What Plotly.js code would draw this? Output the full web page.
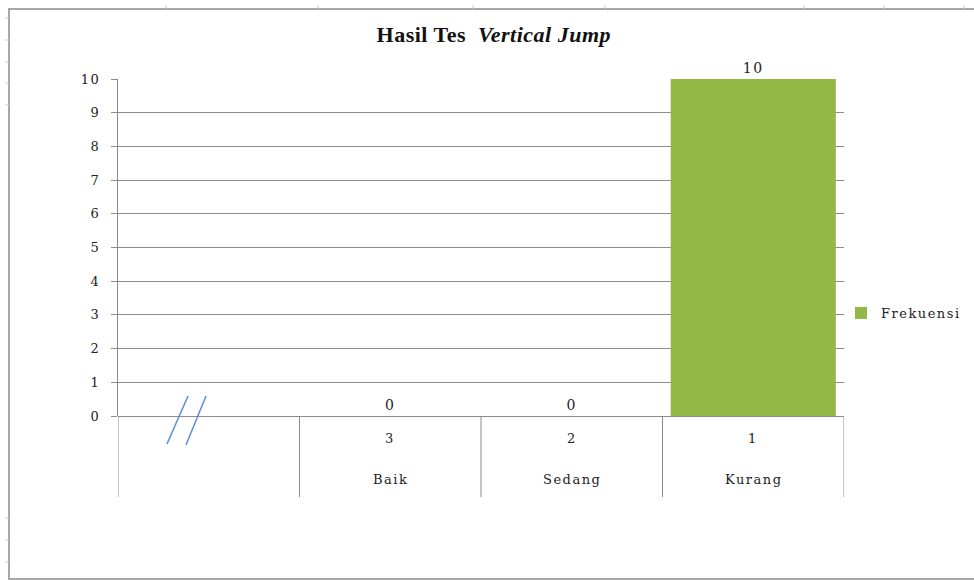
<!DOCTYPE html>
<html>
<head>
<meta charset="utf-8">
<script src="https://cdn.plot.ly/plotly-3.0.1.min.js"></script>
<style>
  html, body { margin: 0; padding: 0; background: #fff; }
  #chart { width: 974px; height: 580px; }
  text { letter-spacing: 1.5px; }
  text.gtitle, .gtitle text { letter-spacing: 0.5px; }
</style>
</head>
<body>
<div id="chart"></div>
<script>
// ---- data ----
const categories = ["Baik", "Sedang", "Kurang"];
const codes = ["3", "2", "1"];
const frekuensi = [0, 0, 10];
const seriesName = "Frekuensi";
const yTicks = [0, 1, 2, 3, 4, 5, 6, 7, 8, 9, 10];

// ---- geometry helpers (pixel -> paper), plot area 118..844 x 79..416 ----
const L = 118, R = 844, T = 79, B = 416;
const px = x => (x - L) / (R - L);
const py = y => (B - y) / (B - T);

const SERIF = "DejaVu Serif";
const TITLEFONT = "Liberation Serif";
const GRID = "#8c8c8c";

const shapes = [];
// outer chart border
shapes.push({type: "rect", xref: "paper", yref: "paper",
  x0: px(9), x1: px(985), y0: py(579), y1: py(9),
  line: {color: "#a8a8a8", width: 2}, layer: "below"});
// faint ruler marks on the left and top edges
[18, 40, 62, 83, 105, 518, 540, 562].forEach(y => shapes.push({type: "line", xref: "paper", yref: "paper",
  x0: px(5), x1: px(9), y0: py(y), y1: py(y), line: {color: "#c9d0dc", width: 1}}));
[166, 318, 473, 605, 804, 884, 964].forEach(x => shapes.push({type: "line", xref: "paper", yref: "paper",
  x0: px(x), x1: px(x), y0: py(5), y1: py(9), line: {color: "#c9d0dc", width: 1}}));
// category table dividers (between categories, incl. blank first column)
for (let i = -1; i <= categories.length; i++) {
  shapes.push({type: "line", xref: "x", yref: "paper",
    x0: i - 0.5, x1: i - 0.5, y0: py(497), y1: 0,
    line: {color: GRID, width: 1}});
}
// axis break marks "//"
shapes.push({type: "line", xref: "paper", yref: "paper",
  x0: px(167), y0: py(444), x1: px(188), y1: py(396), line: {color: "#5b8ed6", width: 1.5}});
shapes.push({type: "line", xref: "paper", yref: "paper",
  x0: px(186), y0: py(445), x1: px(206), y1: py(396), line: {color: "#5b8ed6", width: 1.5}});

const annotations = [];
categories.forEach((c, i) => {
  annotations.push({x: c, xref: "x", yref: "paper", y: py(438), text: codes[i],
    showarrow: false, yanchor: "middle", font: {family: SERIF, size: 13, color: "#222"}});
  annotations.push({x: c, xref: "x", yref: "paper", y: py(480), text: c,
    showarrow: false, yanchor: "middle", font: {family: SERIF, size: 13, color: "#222"}});
});

const trace = {
  type: "bar",
  x: categories,
  y: frekuensi,
  name: seriesName,
  text: frekuensi.map(String),
  textposition: "outside",
  cliponaxis: false,
  textfont: {family: SERIF, size: 14, color: "#222"},
  marker: {color: "#93b846", line: {width: 0}},
  showlegend: true,
  hoverinfo: "x+y"
};

const layout = {
  width: 974, height: 580,
  margin: {l: L, r: 974 - R, t: T, b: 580 - B, autoexpand: false},
  paper_bgcolor: "#fff", plot_bgcolor: "#fff",
  title: {
    text: "<b>Hasil Tes  <i>Vertical Jump</i></b>",
    x: 0.507, xref: "container", xanchor: "center",
    y: 1 - 34 / 580, yref: "container", yanchor: "middle",
    font: {family: TITLEFONT, size: 22, color: "#111"}
  },
  xaxis: {
    type: "category",
    categoryorder: "array", categoryarray: categories,
    range: [-1.5, categories.length - 0.5],
    showticklabels: false, ticks: "", showgrid: false,
    zeroline: false, showline: false, fixedrange: true
  },
  yaxis: {
    range: [0, 10], tickvals: yTicks, ticktext: yTicks.map(String),
    ticks: "outside", ticklen: 6, tickcolor: GRID, tickwidth: 1,
    ticklabelstandoff: 8,
    showline: true, linecolor: GRID, linewidth: 1,
    showgrid: true, gridcolor: GRID, gridwidth: 1,
    zeroline: true, zerolinecolor: GRID, zerolinewidth: 1,
    tickfont: {family: SERIF, size: 13, color: "#222"},
    fixedrange: true
  },
  bargap: 0.09,
  showlegend: true,
  legend: {
    x: px(841), xanchor: "left", y: py(313), yanchor: "middle",
    font: {family: SERIF, size: 13, color: "#222"},
    itemwidth: 30, bgcolor: "rgba(0,0,0,0)"
  },
  shapes: shapes,
  annotations: annotations
};

Plotly.newPlot("chart", [trace], layout, {displayModeBar: false, staticPlot: true});
</script>
</body>
</html>
